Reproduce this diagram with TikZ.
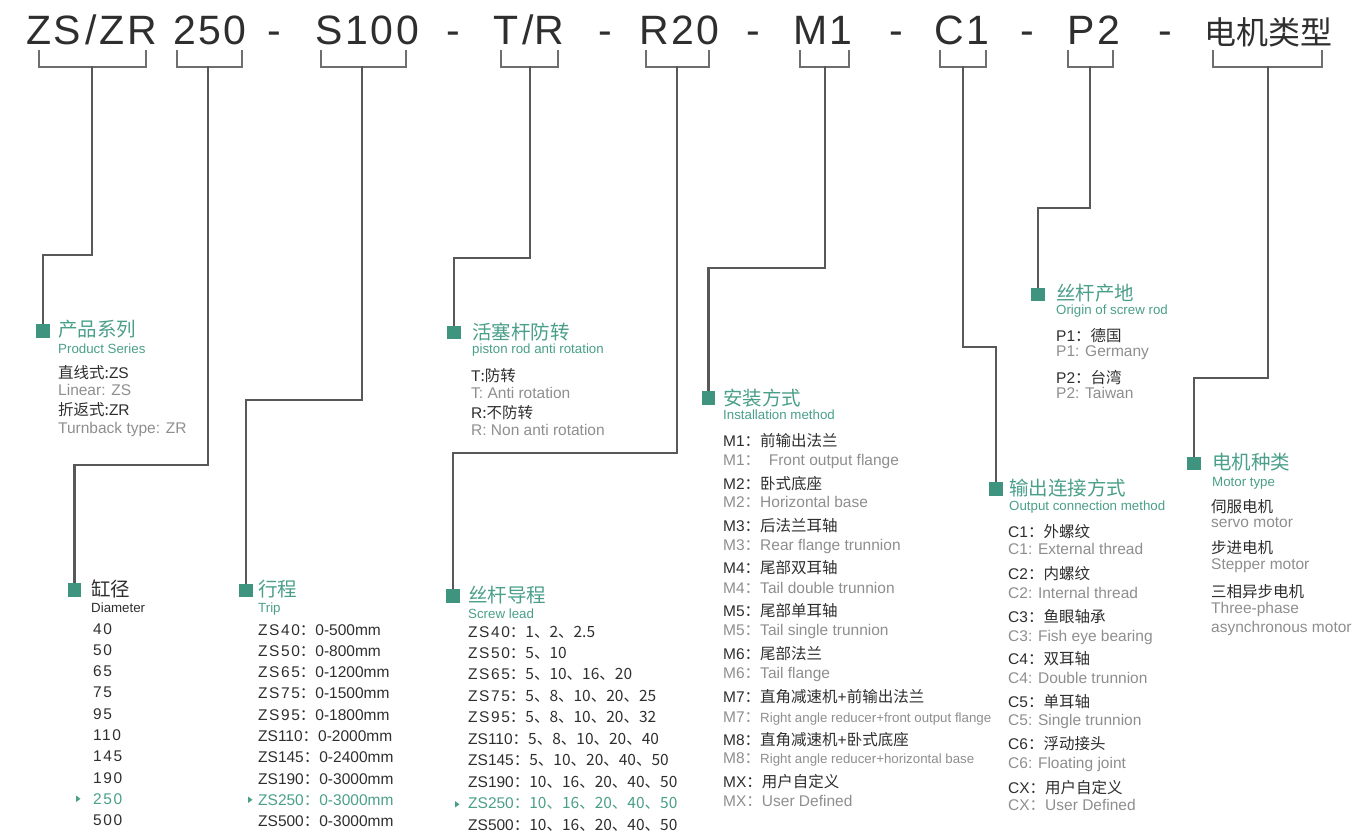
\documentclass[tikz,border=0pt]{standalone}
\usepackage{fontspec}
\setmainfont{Liberation Sans}
\newfontfamily\cjk{Noto Sans CJK SC}
\newfontfamily\hdrfont[LetterSpace=6]{Liberation Sans}
\newfontfamily\spaced[LetterSpace=10]{Liberation Sans}
\newcommand\zh[1]{{\cjk #1}}
\newcommand\wide[1]{{\spaced #1}}
\definecolor{brand}{HTML}{4A9F89}
\definecolor{brandsq}{HTML}{3F9480}
\definecolor{ink}{HTML}{2E2E2E}
\definecolor{soft}{HTML}{8E8E8E}
\definecolor{wire}{HTML}{585858}
\definecolor{brk}{HTML}{6E6E6E}
\begin{document}
\begin{tikzpicture}[x=1pt,y=-1pt,
  hdr/.style={anchor=base,inner sep=0,text=ink,font=\hdrfont\fontsize{41}{41}\selectfont},
  ttl/.style={anchor=base west,inner sep=0,text=brand,font=\cjk\fontsize{19.5}{20}\selectfont},
  subttl/.style={anchor=base west,inner sep=0,text=brand,font=\fontsize{13.3}{14}\selectfont},
  cnrow/.style={anchor=base west,inner sep=0,text=ink,font=\fontsize{15.5}{16}\selectfont},
  enrow/.style={anchor=base west,inner sep=0,text=soft,font=\fontsize{15.5}{16}\selectfont},
  pick/.style={text=brand},
  sq/.style={fill=brandsq,draw=none,inner sep=0,minimum size=13.5pt},
  brace/.style={draw=brk,line width=2pt},
  link/.style={draw=wire,line width=2.5pt},
  seltri/.style={fill=brand,draw=none}]
\useasboundingbox (0,0) rectangle (1361,833);

% ---------- model code ----------
\node[hdr] (h1) at (91.5,44) {ZS\hspace{4pt}/\hspace{3pt}ZR};
\node[hdr] (h2) at (210,44) {250};
\node[hdr] (d1) at (274.5,44) {-};
\node[hdr] (h3) at (367.5,44) {S100};
\node[hdr] (d2) at (453,44) {-};
\node[hdr] (h4) at (529,44) {T\hspace{3pt}/\hspace{1pt}R};
\node[hdr] (d3) at (605,44) {-};
\node[hdr] (h5) at (679.5,44) {R20};
\node[hdr] (d4) at (753.5,44) {-};
\node[hdr] (h6) at (823,44) {M1};
\node[hdr] (d5) at (896,44) {-};
\node[hdr] (h7) at (961.5,44) {C1};
\node[hdr] (d6) at (1027,44) {-};
\node[hdr] (h8) at (1094,44) {P2};
\node[hdr] (d7) at (1165,44) {-};
\node[hdr,font=\cjk\fontsize{32}{32}\selectfont] (h9) at (1268,44) {电机类型};

% brackets under each field
\draw[brace] (39,50) -- (39,67) -- (146,67) -- (146,50);
\draw[brace] (177,50) -- (177,67) -- (242,67) -- (242,50);
\draw[brace] (321,50) -- (321,67) -- (406,67) -- (406,50);
\draw[brace] (501,50) -- (501,67) -- (558,67) -- (558,50);
\draw[brace] (646,50) -- (646,67) -- (709,67) -- (709,50);
\draw[brace] (800,50) -- (800,67) -- (849,67) -- (849,50);
\draw[brace] (940,50) -- (940,67) -- (986,67) -- (986,50);
\draw[brace] (1068,50) -- (1068,67) -- (1113,67) -- (1113,50);
\draw[brace] (1213,50) -- (1213,67) -- (1322,67) -- (1322,50);
\coordinate (b1) at (92,66);
\coordinate (b2) at (208,66);
\coordinate (b3) at (362,66);
\coordinate (b4) at (530,66);
\coordinate (b5) at (677,66);
\coordinate (b6) at (825,66);
\coordinate (b7) at (963,66);
\coordinate (b8) at (1090,66);
\coordinate (b9) at (1268,66);

% ---------- markers ----------
\node[sq] (m1) at (43,331) {};
\node[sq] (m2) at (74.5,590) {};
\node[sq] (m3) at (246,590.5) {};
\node[sq] (m4) at (454,332.5) {};
\node[sq] (m5) at (453,596) {};
\node[sq] (m6) at (708.5,398) {};
\node[sq] (m7) at (996,489) {};
\node[sq] (m8) at (1038,294.5) {};
\node[sq] (m9) at (1194,463.5) {};

% ---------- connectors ----------
\coordinate (k1) at (92,255);
\coordinate (k2) at (208,465);
\coordinate (k3) at (362,400);
\coordinate (k4) at (530,258);
\coordinate (k5) at (677,453);
\coordinate (k6) at (825,268);
\coordinate (k7) at (963,347);
\coordinate (k8) at (1090,208);
\coordinate (k9) at (1268,378);
\foreach \n in {1,...,9}{
  \draw[link] (b\n) -- (k\n) -| (m\n.north);
}

% ---------- 产品系列 ----------
\node[ttl] (t1) at (58,336) {产品系列};
\node[subttl] (s1) at (58,353) {Product Series};
\node[cnrow] (r1a) at (58,378) {\zh{直线式:}ZS};
\node[enrow] (r1b) at (58,395) {Linear: ZS};
\node[cnrow] (r1c) at (58,415) {\zh{折返式:}ZR};
\node[enrow] (r1d) at (58,433) {Turnback type: ZR};

% ---------- 缸径 ----------
\node[ttl,text=ink] (t2) at (91,596) {缸径};
\node[subttl,text=ink] (s2) at (91,612) {Diameter};
\foreach \v [count=\i from 0] in {40,50,65,75,95,110,145,190,250,500}{
  \ifnum\i=8\relax\else
  \node[cnrow] (dia\i) at (93,{634+21.3*\i}) {\wide{\v}};
  \fi
}
\node[cnrow,pick] (diasel) at (93,{634+21.3*8}) {\wide{250}};
\fill[seltri] (76,795.5) -- (80.5,798.8) -- (76,802) -- cycle;

% ---------- 行程 ----------
\node[ttl] (t3) at (258,596) {行程};
\node[subttl] (s3) at (258,612) {Trip};
\foreach \a/\v [count=\i from 0] in {\wide{ZS40}/0-500mm,\wide{ZS50}/0-800mm,\wide{ZS65}/0-1200mm,\wide{ZS75}/0-1500mm,\wide{ZS95}/0-1800mm,ZS110/0-2000mm,ZS145/0-2400mm,ZS190/0-3000mm,ZS250/0-3000mm,ZS500/0-3000mm}{
  \ifnum\i=8\relax\else
  \node[cnrow] (trip\i) at (258,{635+21.3*\i}) {\a\zh{：}\v};
  \fi
}
\node[cnrow,pick] (tripsel) at (258,{635+21.3*8}) {ZS250\zh{：}0-3000mm};
\fill[seltri] (248,796.5) -- (252.5,799.8) -- (248,803) -- cycle;

% ---------- 活塞杆防转 ----------
\node[ttl] (t4) at (472,339) {活塞杆防转};
\node[subttl] (s4) at (472,353) {piston rod anti rotation};
\node[cnrow] (r4a) at (471,381) {T\zh{:防转}};
\node[enrow] (r4b) at (471,398) {T: Anti rotation};
\node[cnrow] (r4c) at (471,418) {R\zh{:不防转}};
\node[enrow] (r4d) at (471,435) {R: Non anti rotation};

% ---------- 丝杆导程 ----------
\node[ttl] (t5) at (468,602) {丝杆导程};
\node[subttl] (s5) at (468,618) {Screw lead};
\foreach \a/\v [count=\i from 0] in {\wide{ZS40}/1、2、2.5,\wide{ZS50}/5、10,\wide{ZS65}/5、10、16、20,\wide{ZS75}/5、8、10、20、25,\wide{ZS95}/5、8、10、20、32,ZS110/5、8、10、20、40,ZS145/5、10、20、40、50,ZS190/10、16、20、40、50,ZS250/10、16、20、40、50,ZS500/10、16、20、40、50}{
  \ifnum\i=8\relax\else
  \node[cnrow] (lead\i) at (468,{637+21.45*\i}) {\a\zh{：\v}};
  \fi
}
\node[cnrow,pick] (leadsel) at (468,{637+21.45*8}) {ZS250\zh{：10、16、20、40、50}};
\fill[seltri] (455,801) -- (459.5,804.3) -- (455,807.5) -- cycle;

% ---------- 安装方式 ----------
\node[ttl] (t6) at (723,405) {安装方式};
\node[subttl] (s6) at (723,419) {Installation method};
\node[cnrow] (r6a) at (723,446) {M1\zh{：前输出法兰}};
\node[enrow] (r6b) at (723,465) {M1\zh{：} \ Front output flange};
\node[cnrow] (r6c) at (723,489) {M2\zh{：卧式底座}};
\node[enrow] (r6d) at (723,507) {M2\zh{：}Horizontal base};
\node[cnrow] (r6e) at (723,531) {M3\zh{：后法兰耳轴}};
\node[enrow] (r6f) at (723,550) {M3\zh{：}Rear flange trunnion};
\node[cnrow] (r6g) at (723,573) {M4\zh{：尾部双耳轴}};
\node[enrow] (r6h) at (723,593) {M4\zh{：}Tail double trunnion};
\node[cnrow] (r6i) at (723,616) {M5\zh{：尾部单耳轴}};
\node[enrow] (r6j) at (723,635) {M5\zh{：}Tail single trunnion};
\node[cnrow] (r6k) at (723,659) {M6\zh{：尾部法兰}};
\node[enrow] (r6l) at (723,678) {M6\zh{：}Tail flange};
\node[cnrow] (r6m) at (723,702) {M7\zh{：直角减速机}+\zh{前输出法兰}};
\node[enrow] (r6n) at (723,722) {M7\zh{：}{\fontsize{13.3}{14}\selectfont Right angle reducer+front output flange}};
\node[cnrow] (r6o) at (723,745) {M8\zh{：直角减速机}+\zh{卧式底座}};
\node[enrow] (r6p) at (723,763) {M8\zh{：}{\fontsize{13.3}{14}\selectfont Right angle reducer+horizontal base}};
\node[cnrow] (r6q) at (723,787) {MX\zh{：用户自定义}};
\node[enrow] (r6r) at (723,806) {MX\zh{：}User Defined};

% ---------- 输出连接方式 ----------
\node[ttl] (t7) at (1009,495) {输出连接方式};
\node[subttl] (s7) at (1009,510) {Output connection method};
\node[cnrow] (r7a) at (1008,537) {C1\zh{：外螺纹}};
\node[enrow] (r7b) at (1008,554) {C1: External thread};
\node[cnrow] (r7c) at (1008,579) {C2\zh{：内螺纹}};
\node[enrow] (r7d) at (1008,598) {C2: Internal thread};
\node[cnrow] (r7e) at (1008,622) {C3\zh{：鱼眼轴承}};
\node[enrow] (r7f) at (1008,641) {C3: Fish eye bearing};
\node[cnrow] (r7g) at (1008,664) {C4\zh{：双耳轴}};
\node[enrow] (r7h) at (1008,683) {C4: Double trunnion};
\node[cnrow] (r7i) at (1008,707) {C5\zh{：单耳轴}};
\node[enrow] (r7j) at (1008,725) {C5: Single trunnion};
\node[cnrow] (r7k) at (1008,749) {C6\zh{：浮动接头}};
\node[enrow] (r7l) at (1008,768) {C6: Floating joint};
\node[cnrow] (r7m) at (1008,793) {CX\zh{：用户自定义}};
\node[enrow] (r7n) at (1008,810) {CX\zh{：}User Defined};

% ---------- 丝杆产地 ----------
\node[ttl] (t8) at (1056,300) {丝杆产地};
\node[subttl] (s8) at (1056,314) {Origin of screw rod};
\node[cnrow] (r8a) at (1056,341) {P1\zh{：德国}};
\node[enrow] (r8b) at (1056,356) {P1: Germany};
\node[cnrow] (r8c) at (1056,383) {P2\zh{：台湾}};
\node[enrow] (r8d) at (1056,398) {P2: Taiwan};

% ---------- 电机种类 ----------
\node[ttl] (t9) at (1212,469) {电机种类};
\node[subttl] (s9) at (1212,486) {Motor type};
\node[cnrow] (r9a) at (1211,512) {\zh{伺服电机}};
\node[enrow] (r9b) at (1211,527) {servo motor};
\node[cnrow] (r9c) at (1211,553) {\zh{步进电机}};
\node[enrow] (r9d) at (1211,569) {Stepper motor};
\node[cnrow] (r9e) at (1211,597) {\zh{三相异步电机}};
\node[enrow] (r9f) at (1211,613) {Three-phase};
\node[enrow] (r9g) at (1211,632) {asynchronous motor};
\end{tikzpicture}
\end{document}
